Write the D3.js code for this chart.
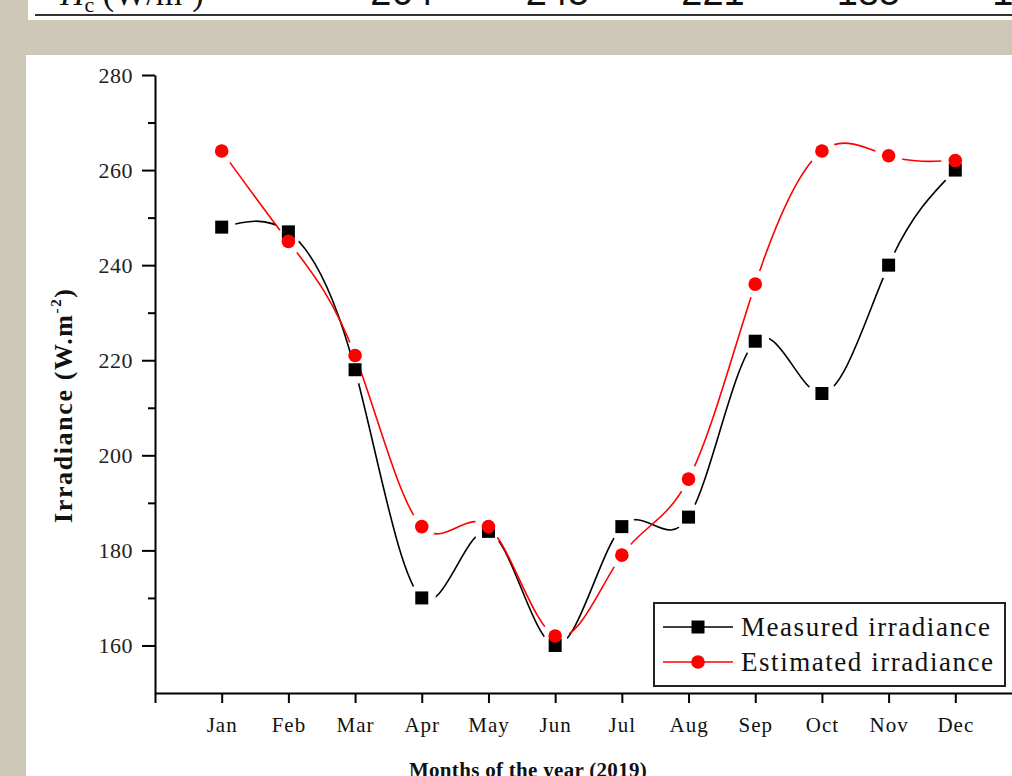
<!DOCTYPE html>
<html>
<head>
<meta charset="utf-8">
<script src="https://cdn.jsdelivr.net/npm/d3@7"></script>
<style>
  html, body { margin: 0; padding: 0; background: #cdc7b8; }
  svg { display: block; }
</style>
</head>
<body>
<svg id="chart" width="1012" height="776"></svg>
<script>
// Monthly irradiance, 2019 (W.m-2)
const months = ["Jan", "Feb", "Mar", "Apr", "May", "Jun", "Jul", "Aug", "Sep", "Oct", "Nov", "Dec"];
const measured = [248, 247, 218, 170, 184, 160, 185, 187, 224, 213, 240, 260];
const estimated = [264, 245, 221, 185, 185, 162, 179, 195, 236, 264, 263, 262];
const yTicks = [160, 180, 200, 220, 240, 260, 280];
const yMinorTicks = [170, 190, 210, 230, 250, 270];
const seriesNames = ["Measured irradiance", "Estimated irradiance"];
const seriesColors = ["#000000", "#ff0000"];

const W = 1012, H = 776;
const svg = d3.select("#chart");
const serif = "'Liberation Serif', 'Times New Roman', serif";

// Page backgrounds: table strip above, figure panel below
svg.append("rect").attr("x", 28).attr("y", 0).attr("width", W - 28).attr("height", 20).attr("fill", "#fff");
svg.append("rect").attr("x", 26).attr("y", 55).attr("width", W - 26).attr("height", H - 55).attr("fill", "#fff");

// Table row (H_c) with the estimated values
const strip = svg.append("g");
strip.append("line").attr("x1", 35).attr("x2", W).attr("y1", 15).attr("y2", 15)
  .attr("stroke", "#333").attr("stroke-width", 2);
const hLabel = strip.append("text").attr("x", 60).attr("y", 5)
  .attr("font-family", serif).attr("font-size", 34).attr("fill", "#111");
hLabel.append("tspan").attr("font-style", "italic").text("H");
hLabel.append("tspan").attr("font-size", 22).attr("dy", 7).text("c");
hLabel.append("tspan").attr("dy", -7).text(" (W/m");
hLabel.append("tspan").attr("font-size", 20).attr("dy", -12).text("2");
hLabel.append("tspan").attr("dy", 12).text(")");
const tableX = d3.scaleLinear().domain([0, 4]).range([402, 1024]);
strip.selectAll("text.val").data(estimated.slice(0, 5)).join("text")
  .attr("class", "val")
  .attr("x", (d, i) => tableX(i)).attr("y", 5)
  .attr("text-anchor", "middle")
  .attr("font-family", "'Liberation Sans', Arial, sans-serif")
  .attr("font-size", 38).attr("fill", "#111")
  .text(d => d);

// Scales
const x = d3.scaleLinear().domain([0, 13]).range([155, 1022]);
const y = d3.scaleLinear().domain([150, 280]).range([693, 75]);

// Axes
const xAxis = svg.append("g").attr("transform", `translate(0,${y(150)})`)
  .call(d3.axisBottom(x).tickValues(d3.range(0, 13)).tickSize(10).tickSizeOuter(0).tickPadding(14)
    .tickFormat(i => i === 0 ? "" : months[i - 1]));
xAxis.select(".domain").attr("stroke", "#000").attr("stroke-width", 2);
xAxis.selectAll(".tick line").attr("stroke", "#000").attr("stroke-width", 2);
xAxis.selectAll(".tick text").attr("font-family", serif).attr("font-size", 21)
  .attr("letter-spacing", 1).attr("fill", "#111");

const yAxis = svg.append("g").attr("transform", `translate(${x(0)},0)`)
  .call(d3.axisLeft(y).tickValues(yTicks).tickSize(13).tickSizeOuter(0).tickPadding(9));
yAxis.select(".domain").attr("stroke", "#000").attr("stroke-width", 2);
yAxis.selectAll(".tick line").attr("stroke", "#000").attr("stroke-width", 2);
yAxis.selectAll(".tick text").attr("font-family", serif).attr("font-size", 22)
  .attr("letter-spacing", 0.5).attr("fill", "#222");

const yMinor = svg.append("g").attr("transform", `translate(${x(0)},0)`)
  .call(d3.axisLeft(y).tickValues(yMinorTicks).tickSize(7).tickFormat(""));
yMinor.select(".domain").remove();
yMinor.selectAll(".tick line").attr("stroke", "#000").attr("stroke-width", 2);

// Axis titles
const yTitle = svg.append("text")
  .attr("transform", "translate(72,406) rotate(-90)")
  .attr("text-anchor", "middle")
  .attr("font-family", serif).attr("font-weight", "bold").attr("font-size", 26)
  .attr("textLength", 234).attr("lengthAdjust", "spacing")
  .attr("fill", "#111");
yTitle.append("tspan").text("Irradiance (W.m");
yTitle.append("tspan").attr("font-size", 15).attr("dy", -11).text("-2");
yTitle.append("tspan").attr("dy", 11).text(")");

svg.append("text")
  .attr("x", 528).attr("y", 777)
  .attr("text-anchor", "middle")
  .attr("font-family", serif).attr("font-weight", "bold").attr("font-size", 21)
  .attr("letter-spacing", 0.3)
  .attr("fill", "#111")
  .text("Months of the year (2019)");

// Series: smooth curves with a gap around each symbol
const series = [
  { name: seriesNames[0], values: measured, color: seriesColors[0], shape: "square" },
  { name: seriesNames[1], values: estimated, color: seriesColors[1], shape: "circle" }
];
const defs = svg.append("defs");
const line = d3.line().x((d, i) => x(i + 1)).y(d => y(d)).curve(d3.curveNatural);

series.forEach((s, k) => {
  const m = defs.append("mask").attr("id", "gap" + k)
    .attr("maskUnits", "userSpaceOnUse").attr("x", 0).attr("y", 0).attr("width", W).attr("height", H);
  m.append("rect").attr("width", W).attr("height", H).attr("fill", "white");
  m.selectAll("circle").data(s.values).join("circle")
    .attr("cx", (d, i) => x(i + 1)).attr("cy", d => y(d)).attr("r", 14).attr("fill", "black");

  svg.append("path").datum(s.values)
    .attr("d", line)
    .attr("fill", "none").attr("stroke", s.color).attr("stroke-width", 1.6)
    .attr("mask", `url(#gap${k})`);
});

series.forEach(s => {
  const g = svg.append("g");
  if (s.shape === "square") {
    g.selectAll("rect").data(s.values).join("rect")
      .attr("x", (d, i) => x(i + 1) - 6.5).attr("y", d => y(d) - 6.5)
      .attr("width", 13).attr("height", 13).attr("fill", s.color);
  } else {
    g.selectAll("circle").data(s.values).join("circle")
      .attr("cx", (d, i) => x(i + 1)).attr("cy", d => y(d)).attr("r", 6.8).attr("fill", s.color);
  }
});

// Legend
const legend = svg.append("g");
legend.append("rect").attr("x", 654).attr("y", 603).attr("width", 351).attr("height", 83)
  .attr("fill", "#fff").attr("stroke", "#222").attr("stroke-width", 2);
const legendRows = [627, 662];
const legendWidths = [249, 252];
series.forEach((s, k) => {
  const ly = legendRows[k];
  legend.append("line").attr("x1", 663).attr("x2", 733).attr("y1", ly).attr("y2", ly)
    .attr("stroke", s.color).attr("stroke-width", 1.6);
  if (s.shape === "square") {
    legend.append("rect").attr("x", 698 - 6.5).attr("y", ly - 6.5).attr("width", 13).attr("height", 13).attr("fill", s.color);
  } else {
    legend.append("circle").attr("cx", 698).attr("cy", ly).attr("r", 6.8).attr("fill", s.color);
  }
  legend.append("text").attr("x", 741).attr("y", ly + 9)
    .attr("font-family", serif).attr("font-size", 27)
    .attr("textLength", legendWidths[k]).attr("lengthAdjust", "spacing")
    .attr("fill", "#111")
    .text(s.name);
});
</script>
</body>
</html>
